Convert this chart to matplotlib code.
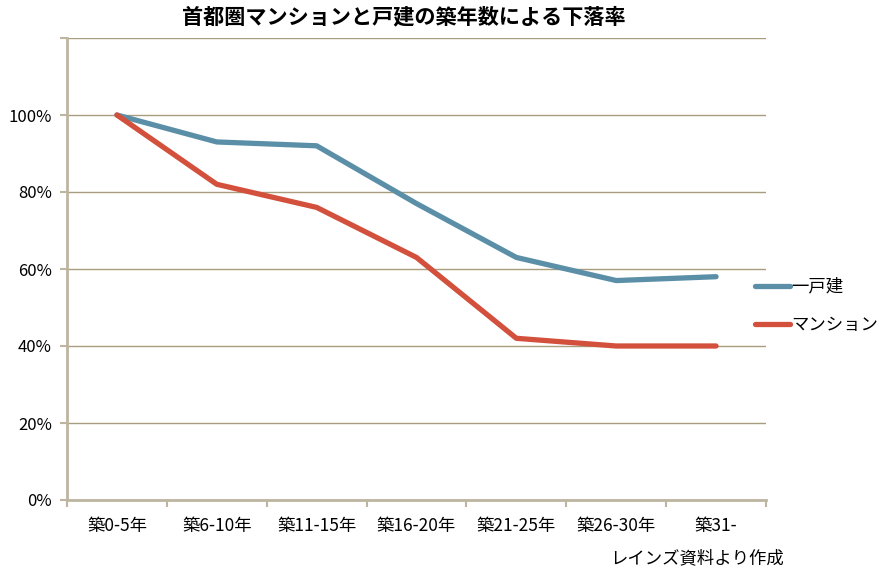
import matplotlib
matplotlib.use('Agg')

from matplotlib import pyplot as plt
from matplotlib.ticker import FixedLocator, FuncFormatter

plt.rcParams['font.family'] = ['Noto Sans CJK JP', 'DejaVu Sans']

categories = ['築0-5年', '築6-10年', '築11-15年', '築16-20年', '築21-25年', '築26-30年', '築31-']
detached = [1.00, 0.93, 0.92, 0.77, 0.63, 0.57, 0.58]
condo = [1.00, 0.82, 0.76, 0.63, 0.42, 0.40, 0.40]
series_names = ['一戸建', 'マンション']

GRID = '#a99d7f'
AXIS = '#bdb5a0'
BLUE = '#5a8fa7'
RED = '#d2503c'


def percent_label(v, pos):
    if v > 1.01:
        return ''
    return '{:d}%'.format(int(round(v * 100)))


def main():
    fig = plt.figure(figsize=(8.9, 5.76), dpi=100)
    ax = fig.add_axes([67 / 890, 1 - 500 / 576, 699 / 890, 462 / 576])

    x = list(range(len(categories)))
    ax.plot(x, detached, color=BLUE, lw=3.8, solid_capstyle='round', label=series_names[0], zorder=3)
    ax.plot(x, condo, color=RED, lw=3.8, solid_capstyle='round', label=series_names[1], zorder=3)

    ax.set_xlim(-0.5, len(categories) - 0.5)
    ax.set_ylim(0, 1.2)

    ax.yaxis.set_major_locator(FixedLocator([0, 0.2, 0.4, 0.6, 0.8, 1.0, 1.2]))
    ax.yaxis.set_major_formatter(FuncFormatter(percent_label))
    ax.grid(axis='y', color=GRID, lw=1.0)
    ax.set_axisbelow(True)

    ax.xaxis.set_major_locator(FixedLocator([i - 0.5 for i in range(len(categories) + 1)]))
    ax.xaxis.set_major_formatter(FuncFormatter(lambda v, p: ''))
    ax.xaxis.set_minor_locator(FixedLocator(x))
    ax.set_xticklabels(categories, minor=True)
    ax.tick_params(axis='x', which='minor', length=0, pad=12, labelsize=12.5)
    ax.tick_params(axis='x', which='major', length=5, width=1.5, color=AXIS)
    ax.tick_params(axis='y', length=5, width=1.5, color=AXIS, pad=6, labelsize=12)

    for side in ['top', 'right']:
        ax.spines[side].set_visible(False)
    ax.spines['left'].set_color(AXIS)
    ax.spines['left'].set_linewidth(2)
    ax.spines['bottom'].set_color(AXIS)
    ax.spines['bottom'].set_linewidth(2)

    fig.text(0.454, 0.97, '首都圏マンションと戸建の築年数による下落率',
             ha='center', va='center', fontsize=15.2, fontweight='bold')

    ax.legend(loc='center left', bbox_to_anchor=(755 / 890, 1 - 306 / 576),
              bbox_transform=fig.transFigure, frameon=False, fontsize=12.5,
              borderpad=0, borderaxespad=0,
              handlelength=2.0, handletextpad=0.1, labelspacing=1.2)

    fig.text(697 / 890, 1 - 558 / 576, 'レインズ資料より作成', ha='center', va='center', fontsize=12.5)

    fig.savefig('out.png', dpi=100)


if __name__ == '__main__':
    main()
